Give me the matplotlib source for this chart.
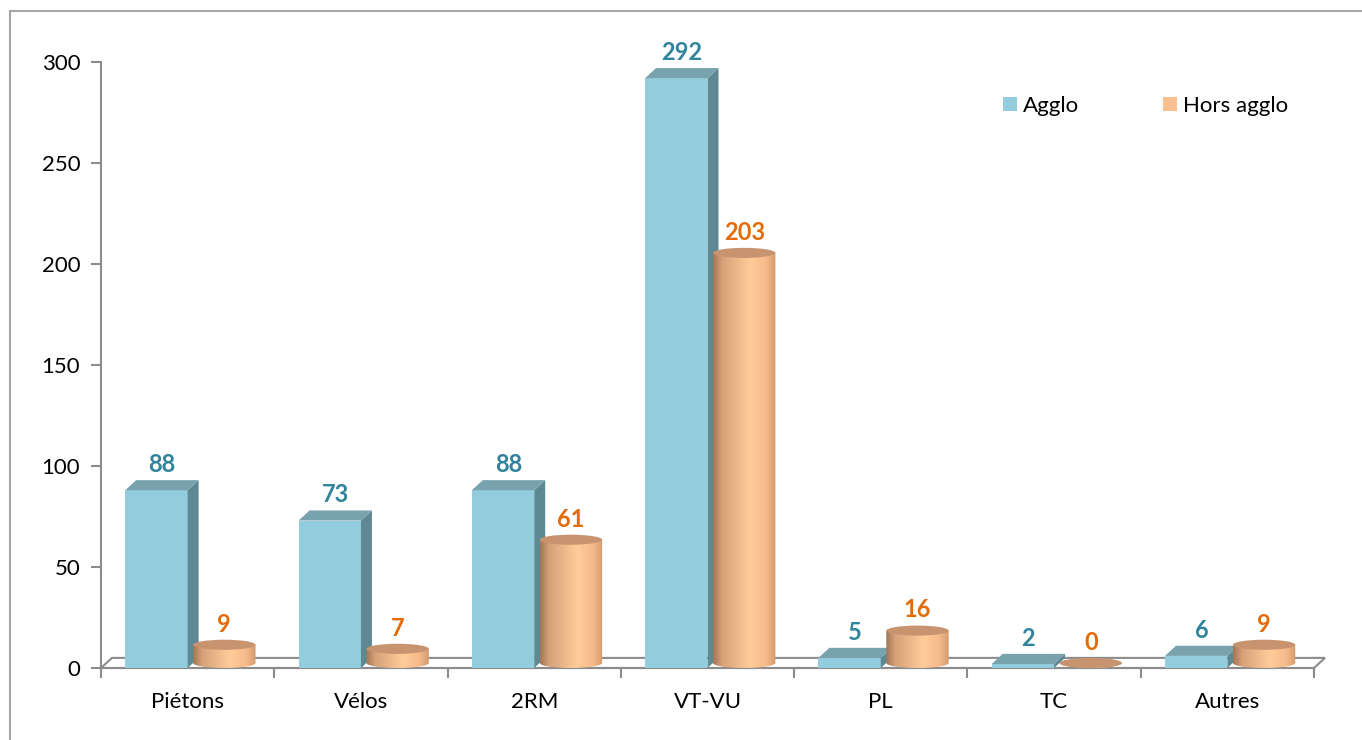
import numpy as np
import matplotlib
matplotlib.use("Agg")
import matplotlib.pyplot as plt
from matplotlib.patches import Polygon, Ellipse, Rectangle, Patch
from matplotlib.colors import LinearSegmentedColormap

categories = ["Piétons", "Vélos", "2RM", "VT-VU", "PL", "TC", "Autres"]
agglo = [88, 73, 88, 292, 5, 2, 6]
hors_agglo = [9, 7, 61, 203, 16, 0, 9]
yticks = [0, 50, 100, 150, 200, 250, 300]

plt.rcParams["font.family"] = ["Lato", "DejaVu Sans"]

BLUE_FRONT = "#93CDDD"
BLUE_SIDE = "#5F8895"
BLUE_TOP = "#78A2AE"
ORANGE_TOP = "#C8936F"
BLUE_TXT = "#31849B"
ORANGE_TXT = "#E36C09"
GRAY = "#8C8C8C"

cyl_cmap = LinearSegmentedColormap.from_list(
    "cyl", [(0.0, "#A27554"), (0.15, "#D6A27A"), (0.6, "#FFCC99"),
            (0.85, "#F6BA8A"), (1.0, "#D39A6E")])

W = 0.36     # bar width (x units)
DX = 0.0635  # depth shift in x
DY = 5.0     # depth shift in y
EH = 5.0     # ellipse height (y units)

fig = plt.figure(figsize=(13.62, 7.40), dpi=100)
ax = fig.add_axes([101 / 1362, 72 / 740, 1213 / 1362, 606 / 740])

# outer frame
fig.patches.append(Rectangle((10 / 1362, -0.1), 1.2, 1.1 - 11 / 740,
                             transform=fig.transFigure, fill=False,
                             edgecolor="#A6A6A6", linewidth=1.5))

# floor
floor = Polygon([(-0.5, 0), (6.5, 0), (6.5 + DX, DY), (-0.5 + DX, DY)],
                closed=True, facecolor="none", edgecolor=GRAY,
                linewidth=1.5, clip_on=False, zorder=1)
ax.add_patch(floor)

x = np.arange(len(categories))

# Agglo: boxes
ax.bar(x - W / 2, agglo, width=W, color=BLUE_FRONT, zorder=3)
for xi, v in zip(x, agglo):
    x0, x1 = xi - W, xi
    side = Polygon([(x1, 0), (x1 + DX, DY), (x1 + DX, v + DY), (x1, v)],
                   closed=True, facecolor=BLUE_SIDE, edgecolor="none", zorder=3)
    top = Polygon([(x0, v), (x0 + DX, v + DY), (x1 + DX, v + DY), (x1, v)],
                  closed=True, facecolor=BLUE_TOP, edgecolor="none", zorder=3)
    ax.add_patch(side)
    ax.add_patch(top)
    ax.annotate(str(v), (xi - W / 2 + DX / 2, v + DY), xytext=(0, 3),
                textcoords="offset points", ha="center", va="bottom",
                color=BLUE_TXT, fontsize=17, fontweight="bold", zorder=6)

# Hors agglo: cylinders
grad = np.linspace(0, 1, 256).reshape(1, -1)
for xi, v in zip(x, hors_agglo):
    xc = xi + W / 2 + DX / 2
    base = DY / 2
    topy = v + DY / 2
    t = np.linspace(np.pi, 2 * np.pi, 60)
    verts = np.column_stack([xc + W / 2 * np.cos(t), base + EH / 2 * np.sin(t)])
    verts = np.vstack([verts, [[xc + W / 2, topy], [xc - W / 2, topy]]])
    body = Polygon(verts, closed=True, facecolor="none", edgecolor="none")
    ax.add_patch(body)
    im = ax.imshow(grad, cmap=cyl_cmap, aspect="auto", zorder=4,
                   extent=(xc - W / 2, xc + W / 2, base - EH / 2, topy),
                   interpolation="bilinear")
    im.set_clip_path(body)
    ax.add_patch(Ellipse((xc, topy), W, EH, facecolor=ORANGE_TOP,
                         edgecolor="none", zorder=5))
    ax.annotate(str(v), (xc, topy + EH / 2), xytext=(0, 3),
                textcoords="offset points", ha="center", va="bottom",
                color=ORANGE_TXT, fontsize=17, fontweight="bold", zorder=6)

ax.set_xlim(-0.5, 6.5)
ax.set_ylim(0, 300)

ax.set_xticks(x)
ax.set_xticklabels(categories)
ax.set_xticks(np.arange(-0.5, 7, 1), minor=True)
ax.tick_params(axis="x", which="major", length=0, pad=17, labelsize=16)
ax.tick_params(axis="x", which="minor", length=7, width=1.5, color=GRAY,
               direction="out")
ax.set_yticks(yticks)
ax.tick_params(axis="y", length=7, width=1.5, color=GRAY, pad=8,
               labelsize=16)

for s in ["top", "right"]:
    ax.spines[s].set_visible(False)
for s in ["left", "bottom"]:
    ax.spines[s].set_color(GRAY)
    ax.spines[s].set_linewidth(1.5)
ax.set_facecolor("none")

handles = [Patch(facecolor=BLUE_FRONT, label="Agglo"),
           Patch(facecolor="#FAC090", label="Hors agglo")]
fig.legend(handles=handles, loc="center left", ncol=2, frameon=False,
           bbox_to_anchor=(1003 / 1362, 1 - 106 / 740), fontsize=16,
           handlelength=0.63, handleheight=0.63, handletextpad=0.25,
           columnspacing=3.8, borderpad=0, borderaxespad=0)

fig.savefig("out.png", dpi=100)
